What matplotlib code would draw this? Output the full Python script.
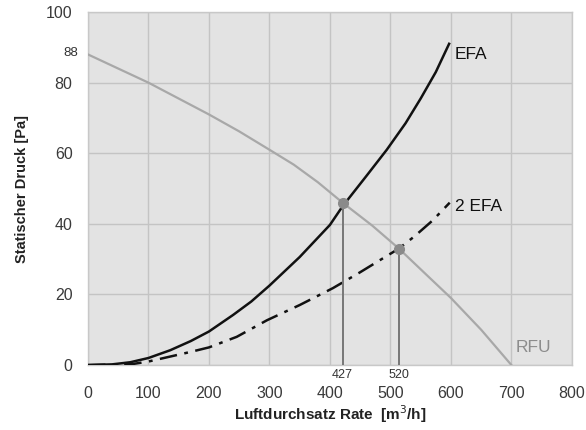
import matplotlib
matplotlib.use("Agg")
import matplotlib.pyplot as plt

# Data
rfu_x = [0, 100, 200, 250, 300, 340, 380, 421, 470, 514, 560, 600, 650, 700]
rfu_y = [88, 80, 71, 66.2, 61, 56.8, 51.8, 46, 39.5, 33, 25.5, 19, 10, 0]

efa_x = [0, 40, 70, 100, 136, 170, 200, 240, 270, 300, 350, 400, 421, 460, 494, 525, 550, 575, 597]
efa_y = [0, 0.2, 0.8, 2, 4.2, 6.8, 9.5, 14.2, 18, 22.5, 30.6, 39.7, 45, 53.5, 61, 68.5, 75.5, 83, 91]

efa2_x = [0, 74, 100, 169, 200, 246, 296, 350, 405, 450, 514, 540, 570, 598]
efa2_y = [0, 0.3, 1, 3.7, 5, 8, 12.7, 17, 21.8, 26.3, 33, 36.5, 41, 46]

op_x = [421, 514]
op_y = [46, 33]
op_labels = ["427", "520"]

x_ticks = [0, 100, 200, 300, 400, 500, 600, 700, 800]
y_ticks = [0, 20, 40, 60, 80, 100]

FONT = "Liberation Sans"

fig = plt.figure(figsize=(5.86, 4.30), dpi=100)
ax = fig.add_axes([0.150, 0.151, 0.826, 0.821])
ax.set_facecolor("#e3e3e3")
ax.set_xlim(0, 800)
ax.set_ylim(0, 100)
ax.set_xticks(x_ticks)
ax.set_yticks(y_ticks)
ax.grid(True, color="#c4c4c4", linewidth=1.0)
ax.set_axisbelow(True)
for s in ax.spines.values():
    s.set_color("#c8c8c8")
    s.set_linewidth(1.0)
ax.tick_params(axis="x", length=0, pad=15, labelsize=11.5, labelcolor="#3a3a3a")
ax.tick_params(axis="y", length=0, pad=11, labelsize=11.5, labelcolor="#3a3a3a")
for lab in ax.get_xticklabels() + ax.get_yticklabels():
    lab.set_family(FONT)

ax.plot(rfu_x, rfu_y, color="#a8a8a8", linewidth=1.6, zorder=3)
ax.plot(efa_x, efa_y, color="#111111", linewidth=1.8, zorder=4,
        solid_joinstyle="round")
ax.plot(efa2_x, efa2_y, color="#111111", linewidth=1.8, zorder=4,
        linestyle=(0, (7, 3, 1.5, 3)))

for x, y, lab in zip(op_x, op_y, op_labels):
    ax.plot([x, x], [0, y], color="#777777", linewidth=1.4, zorder=5)
    ax.plot([x], [y], "o", color="#8a8a8a", markersize=7, zorder=6)
    ax.text(x, -1.0, lab, ha="center", va="top", fontsize=9,
            color="#333333", family=FONT, clip_on=False)

ax.text(606, 88, "EFA", fontsize=12.5, color="#111111",
        family=FONT, va="center")
ax.text(606, 45, "2 EFA", fontsize=12.5, color="#111111",
        family=FONT, va="center")
ax.text(707, 5, "RFU", fontsize=12.5, color="#8c8c8c",
        family=FONT, va="center")
ax.text(-16, 88.5, "88", fontsize=9.5, color="#333333", ha="right",
        va="center", family=FONT)

ax.set_xlabel("Luftdurchsatz Rate  [m$^3$/h]", fontsize=11,
              fontweight="bold", family=FONT,
              color="#222222", labelpad=2)
ax.set_ylabel("Statischer Druck [Pa]", fontsize=10.5, fontweight="bold",
              family=FONT, color="#222222", labelpad=12)

fig.savefig("out.png", dpi=100)
